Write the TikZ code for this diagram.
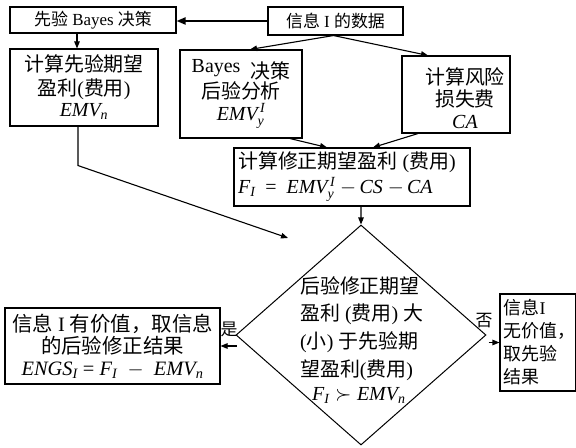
\documentclass[tikz,border=0pt]{standalone}
\usepackage{amsmath}
\usepackage{fontspec}
\setmainfont{Liberation Serif}
\newfontfamily\cjk{Noto Sans CJK SC}
\newcommand\zh[1]{{\cjk #1}}
\usetikzlibrary{arrows.meta,shapes.geometric,calc}
\begin{document}
\begin{tikzpicture}[x=1bp,y=-1bp,
  box/.style={draw, line width=1.1bp, inner sep=0pt, align=center},
  fs17/.style={font=\fontsize{17}{20}\selectfont},
  fs20/.style={font=\fontsize{20}{24}\selectfont},
  arr/.style={draw, line width=1.1bp, -{Triangle[length=7bp,width=5.5bp]}},
  arrthick/.style={draw, line width=2bp, -{Triangle[length=9bp,width=7bp]}}]
\useasboundingbox (0,0) rectangle (576,448);

\node[box, fs17, minimum width=166bp, minimum height=26bp] (pri) at (93,20) {\zh{先验} Bayes \zh{决策}};
\node[box, fs17, minimum width=135bp, minimum height=28bp] (data) at (335.5,21) {\zh{信息} I \zh{的数据}};

\node[box, fs20, minimum width=148bp, minimum height=77bp] (emvn) at (84,87.5)
  {\zh{计算先验期望}\\\zh{盈利}(\zh{费用})\\[-3bp]$\textit{EMV}_{\textit{n}}$};
\node[box, fs20, minimum width=122bp, minimum height=88bp] (bay) at (241,94)
  {Bayes\ \ \raisebox{-6bp}{\zh{决策}}\\\zh{后验分析}\\[-2bp]$\textit{EMV}^{\,\textit{I}}_{\textit{y}}$};
\node[box, minimum width=108bp, minimum height=77bp] (ca) at (456,94.5) {};
\node[align=center, inner sep=0pt, font=\fontsize{20}{22}\selectfont] (cat) at (465,98)
  {\zh{计算风险}\\\zh{损失费}\\\textit{CA}};

\node[box, minimum width=236bp, minimum height=58bp] (fi) at (352,177) {};
\node[align=left, inner sep=0pt, anchor=west, font=\fontsize{20}{25}\selectfont] (fit) at (238,177)
  {\zh{计算修正期望盈利} (\zh{费用})\\$\textit{F}_{\textit{I}}$\ \ =\ \ $\textit{EMV}^{\,\textit{I}}_{\textit{y}}$ $-$\,\textit{CS} $-$\,\textit{CA}};

\node[draw, diamond, line width=1bp, inner sep=0pt, minimum width=250bp, minimum height=220bp] (dia) at (361,335) {};
\node[align=left, inner sep=0pt, anchor=west, font=\fontsize{20}{28}\selectfont] (diat) at (300,340)
  {\zh{后验修正期望}\\\zh{盈利} (\zh{费用}) \zh{大}\\(\zh{小}) \zh{于先验期}\\\zh{望盈利}(\zh{费用})\\[-4bp]\hspace*{12bp}$\textit{F}_{\textit{I}}\succ\textit{EMV}_{\textit{n}}$};

\node[box, minimum width=215bp, minimum height=76bp, font=\fontsize{20.5}{22}\selectfont] (yes) at (112.5,346)
  {\zh{信息} I \zh{有价值，取信息}\\\zh{的后验修正结果}\\$\textit{ENGS}_{\textit{I}}$ = $\textit{F}_{\textit{I}}$\ \ $-$\ \ $\textit{EMV}_{\textit{n}}$};

\node[box, minimum width=75.5bp, minimum height=97bp] (no) at (537.75,342.5) {};
\node[align=left, inner sep=0pt, anchor=west, font=\fontsize{18}{23}\selectfont] (not) at (503.5,342)
  {\zh{信息}I\\\zh{无价值，}\\\zh{取先验}\\\zh{结果}};

\node[fs17, inner sep=0pt] (shi) at (229,329) {\zh{是}};
\node[fs17, inner sep=0pt] (fou) at (484,321) {\zh{否}};

\coordinate (tipA) at (288,238);

\draw[arrthick] (data.west) -- (data.west -| pri.east);
\draw[arr] ([xshift=-16bp]pri.south) -- ([xshift=-16bp]pri.south |- emvn.north);
\draw[arr] ([xshift=-2bp]data.south) -- ([xshift=9bp]bay.north);
\draw[arr] ([xshift=-2bp]data.south) -- ([xshift=-28bp]ca.north);
\draw[arr] ([xshift=49bp]bay.south) -- ([xshift=-25bp]fi.north);
\draw[arr] ([xshift=-38bp]ca.south) -- ([xshift=21bp]fi.north);
\draw[arr] ([xshift=9bp]fi.south) -- (dia.north);
\draw[arr] ([xshift=-6bp]emvn.south) -- ([xshift=-6bp,yshift=-39bp]emvn.south) -- (tipA);
\draw[arr] ([xshift=1bp]dia.west |- yes.east) -- (yes.east);
\draw[arr] ([xshift=2bp]dia.east |- no.west) -- (no.west);
\end{tikzpicture}
\end{document}
